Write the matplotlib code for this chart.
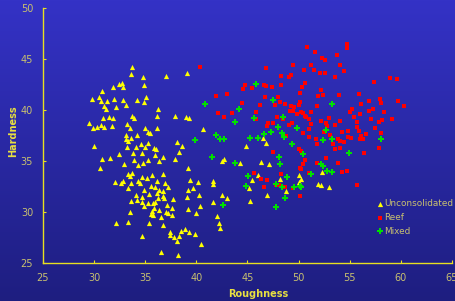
import numpy as np
import matplotlib
matplotlib.use("Agg")
import matplotlib.pyplot as plt

# Unconsolidated (yellow triangles)
unc_x = [33.7, 33.6, 34.8, 37.0, 39.1, 31.9, 32.4, 32.7, 32.8, 34.9, 30.8, 29.8, 30.5, 30.7, 31.3,
         32.0, 32.8, 34.2, 35.1, 34.9, 33.1, 31.0, 31.2, 32.2, 36.3, 36.2, 37.9, 39.0, 39.3, 33.7,
         33.9, 30.9, 31.5, 31.9, 29.5, 29.9, 30.3, 30.7, 31.0, 31.8, 33.2, 33.5, 35.0, 36.2, 33.1,
         33.6, 34.2, 35.3, 35.5, 33.1, 33.3, 34.6, 35.3, 34.1, 33.2, 35.0, 35.9, 36.1, 38.1, 38.6,
         38.3, 30.0, 32.4, 33.8, 34.7, 30.8, 31.6, 30.6, 32.9, 33.9, 34.3, 34.8, 35.3, 36.0, 36.4,
         36.7, 37.9, 39.2, 33.3, 33.7, 33.5, 34.7, 35.2, 35.7, 36.7, 32.1, 32.6, 32.8, 33.6, 34.3,
         34.5, 36.2, 36.9, 39.4, 35.6, 37.2, 33.3, 34.9, 36.0, 36.4, 36.7, 39.2, 39.7, 34.1, 34.7,
         35.4, 36.2, 36.7, 36.8, 39.1, 37.7, 33.6, 34.2, 34.7, 36.0, 36.3, 37.1, 35.3, 34.9, 35.8,
         35.9, 36.4, 37.6, 35.7, 35.6, 35.8, 37.0, 37.2, 37.6, 39.2, 33.5, 36.6, 32.2, 33.3, 35.4,
         36.7, 37.4, 37.4, 37.8, 38.3, 38.5, 38.9, 39.3, 38.1, 34.7, 36.6, 38.2, 40.2, 40.4, 39.9,
         40.5, 41.6, 41.6, 42.5, 41.6, 42.0, 42.2, 42.3, 42.5, 42.7, 43.0, 40.7, 44.9, 46.5, 46.8,
         44.3, 46.3, 47.1, 46.0, 45.5, 48.2, 50.0, 50.2, 50.0, 52.3, 51.9, 52.2, 53.0, 48.8, 46.9,
         45.3, 45.2, 40.3, 40.0]
unc_y = [44.3, 43.6, 43.3, 43.4, 43.7, 42.3, 42.6, 42.7, 42.3, 42.5, 41.9, 41.1, 41.3, 40.9, 40.9,
         41.1, 41.0, 41.0, 41.3, 40.8, 40.5, 40.4, 40.1, 40.3, 40.1, 39.5, 39.5, 39.4, 39.3, 39.5,
         39.3, 39.3, 39.4, 39.3, 38.8, 38.3, 38.4, 38.6, 38.4, 38.5, 38.7, 38.3, 38.3, 38.3, 37.6,
         37.3, 37.6, 37.9, 37.8, 37.2, 37.0, 36.7, 36.8, 36.4, 36.4, 36.4, 36.3, 36.2, 36.9, 36.5,
         35.9, 36.5, 35.7, 35.8, 35.8, 35.2, 35.3, 34.4, 34.7, 35.1, 34.6, 34.8, 35.1, 35.6, 35.0,
         35.4, 35.2, 34.4, 33.8, 33.9, 33.6, 33.5, 33.4, 33.7, 33.8, 33.0, 32.9, 33.1, 32.9, 33.1,
         32.9, 33.1, 32.9, 33.2, 32.6, 32.5, 32.4, 32.2, 32.5, 32.2, 32.1, 32.2, 32.4, 31.7, 31.5,
         31.8, 31.9, 31.6, 31.4, 31.5, 31.3, 31.1, 31.2, 31.0, 31.0, 31.4, 30.7, 30.9, 30.6, 30.9,
         30.4, 30.2, 30.4, 30.1, 29.8, 29.7, 30.0, 29.9, 29.7, 30.3, 30.0, 29.5, 29.0, 29.1, 29.0,
         28.8, 28.1, 27.8, 27.6, 27.7, 28.2, 28.4, 28.1, 27.2, 27.7, 26.1, 25.8, 33.0, 30.6, 27.9,
         26.9, 33.1, 32.8, 31.7, 31.0, 29.6, 29.0, 28.5, 35.0, 35.2, 31.4, 38.2, 36.5, 37.3, 36.8,
         34.8, 34.9, 34.7, 33.7, 33.2, 33.3, 33.7, 33.3, 33.0, 34.0, 32.8, 32.7, 32.5, 32.1, 31.7,
         31.1, 32.4, 31.7, 29.9]

# Reef (red squares)
reef_x = [40.4, 41.9, 43.0, 42.1, 42.7, 46.8, 49.5, 50.5, 48.3, 49.1, 49.3, 44.8, 46.6, 46.8, 47.4,
          48.3, 44.6, 45.5, 50.3, 50.1, 46.7, 48.0, 44.5, 46.2, 47.7, 48.2, 48.7, 49.3, 49.6, 50.1,
          50.0, 43.5, 45.8, 45.8, 47.9, 48.5, 49.5, 49.9, 50.2, 47.0, 46.9, 47.5, 49.4, 49.1, 48.8,
          50.4, 50.0, 50.8, 51.6, 52.3, 52.6, 53.8, 54.7, 54.7, 51.2, 54.1, 51.5, 52.1, 52.6, 54.4,
          53.6, 50.6, 57.4, 58.9, 59.6, 52.2, 51.9, 52.4, 54.0, 55.9, 56.9, 58.0, 58.1, 59.7, 60.3,
          56.1, 51.8, 55.2, 57.3, 56.9, 58.4, 55.0, 55.4, 56.0, 50.4, 50.7, 51.0, 51.2, 53.0, 52.2,
          54.1, 52.7, 52.8, 53.6, 51.2, 57.1, 57.9, 58.2, 59.1, 55.7, 55.7, 57.5, 54.3, 54.8, 55.9,
          56.6, 58.1, 51.0, 53.1, 54.8, 55.1, 56.1, 56.0, 56.3, 51.7, 53.9, 54.1, 54.4, 51.8, 53.4,
          57.9, 53.6, 54.1, 56.4, 52.7, 50.6, 51.8, 50.4, 53.9, 50.2, 51.0, 54.3, 54.7, 55.7, 47.5,
          50.2, 50.1, 45.6, 46.3, 46.9, 48.3, 46.6, 47.8, 48.7, 49.5, 50.1, 48.1, 49.2, 50.6, 51.0,
          52.5]
reef_y = [44.3, 41.4, 41.6, 39.7, 39.4, 44.2, 44.5, 44.0, 43.4, 43.3, 43.5, 42.5, 42.5, 42.4, 42.3,
          42.5, 42.1, 42.2, 42.3, 41.7, 41.3, 41.3, 40.7, 40.5, 40.5, 40.8, 40.6, 40.4, 40.3, 40.8,
          40.5, 39.7, 39.8, 39.2, 39.4, 39.2, 39.9, 39.6, 39.8, 38.8, 38.5, 38.8, 38.8, 38.6, 37.5,
          37.8, 36.2, 46.2, 45.7, 45.1, 44.9, 45.4, 46.5, 46.1, 44.5, 44.5, 44.0, 43.7, 43.7, 43.9,
          43.3, 42.7, 42.8, 43.2, 43.1, 42.0, 41.4, 41.5, 41.5, 41.6, 40.9, 41.1, 40.7, 40.9, 40.4,
          40.6, 40.4, 40.1, 40.1, 39.9, 39.8, 39.8, 39.4, 39.6, 39.7, 39.4, 39.2, 39.8, 39.3, 39.0,
          39.0, 38.8, 38.5, 38.6, 38.7, 39.2, 38.9, 39.1, 39.2, 38.9, 38.4, 38.3, 37.9, 38.0, 38.0,
          37.7, 37.8, 37.4, 37.6, 37.4, 37.3, 37.5, 37.2, 37.2, 37.2, 37.2, 37.0, 36.9, 36.7, 36.7,
          36.3, 36.2, 36.3, 35.8, 35.3, 35.1, 34.8, 34.7, 34.8, 34.3, 33.9, 34.0, 34.1, 32.7, 35.9,
          36.0, 34.4, 33.9, 33.3, 33.2, 33.8, 32.5, 32.7, 32.5, 32.4, 31.6, 32.7, 39.9, 39.5, 38.2,
          37.9]

# Mixed (green)
mix_x = [40.9, 41.9, 42.3, 42.7, 39.9, 41.5, 42.6, 45.8, 47.5, 44.2, 45.6, 43.8, 48.5, 48.0, 47.3,
         48.4, 48.6, 49.9, 45.3, 46.0, 46.6, 49.4, 53.3, 52.7, 53.3, 52.4, 58.1, 54.9, 50.4, 52.2,
         52.4, 52.8, 53.3, 51.2, 50.2, 48.1, 48.2, 43.8, 45.1, 48.9, 44.9, 47.8, 48.4, 49.6, 50.1,
         48.7, 47.8]
mix_y = [40.6, 37.6, 37.2, 37.2, 37.1, 35.4, 30.7, 42.6, 41.0, 40.1, 39.3, 38.9, 39.4, 38.4, 37.9,
         37.8, 37.4, 38.3, 37.3, 37.3, 37.7, 36.7, 40.6, 38.1, 37.2, 37.1, 37.2, 35.8, 35.7, 34.7,
         34.5, 34.1, 34.0, 33.8, 32.5, 35.4, 34.7, 34.8, 33.6, 33.5, 32.6, 32.8, 32.5, 32.5, 32.6,
         31.4, 30.5]

tick_col = "#c8c070"
label_col = "#e8e040"

fig = plt.figure(figsize=(4.56, 3.01), dpi=100)

# gradient background
bg = fig.add_axes([0, 0, 1, 1], zorder=-10)
grad = np.linspace(0, 1, 256).reshape(-1, 1)
top = np.array([52, 50, 198]) / 255
bot = np.array([30, 30, 128]) / 255
img = top + (bot - top) * grad[:, :, None]
bg.imshow(img, aspect="auto", extent=[0, 1, 0, 1])
bg.axis("off")

ax = fig.add_axes([0.094, 0.125, 0.897, 0.847])
ax.patch.set_alpha(0)

ax.scatter(unc_x, unc_y, marker="^", s=14, color="#ffff00", linewidths=0, label="Unconsolidated")
ax.scatter(reef_x, reef_y, marker="s", s=10, color="#ff0000", linewidths=0, label="Reef")
ax.scatter(mix_x, mix_y, marker="P", s=18, color="#00e000", linewidths=0, label="Mixed")

ax.set_xlim(25, 65)
ax.set_ylim(25, 50)
ax.set_xticks(range(25, 66, 5))
ax.set_yticks(range(25, 51, 5))
for s in ["top", "right"]:
    ax.spines[s].set_visible(False)
for s in ["left", "bottom"]:
    ax.spines[s].set_color("#e8e020")
    ax.spines[s].set_linewidth(1)
ax.tick_params(direction="in", length=2.5, color="#e8e020", labelcolor=tick_col, labelsize=7, pad=7)

ax.set_xlabel("Roughness", color=label_col, fontsize=7, fontweight="bold")
ax.set_ylabel("Hardness", color=label_col, fontsize=7, fontweight="bold")
ax.xaxis.set_label_coords(0.526, -0.1)
ax.yaxis.set_label_coords(-0.06, 0.52)

leg = ax.legend(loc="upper left", bbox_to_anchor=(0.803, 0.27), frameon=False, fontsize=6.4,
                labelcolor=tick_col, handletextpad=0.05, labelspacing=0.55, markerscale=1.0,
                handlelength=0.9, borderpad=0)

fig.savefig("out.png", dpi=100)
